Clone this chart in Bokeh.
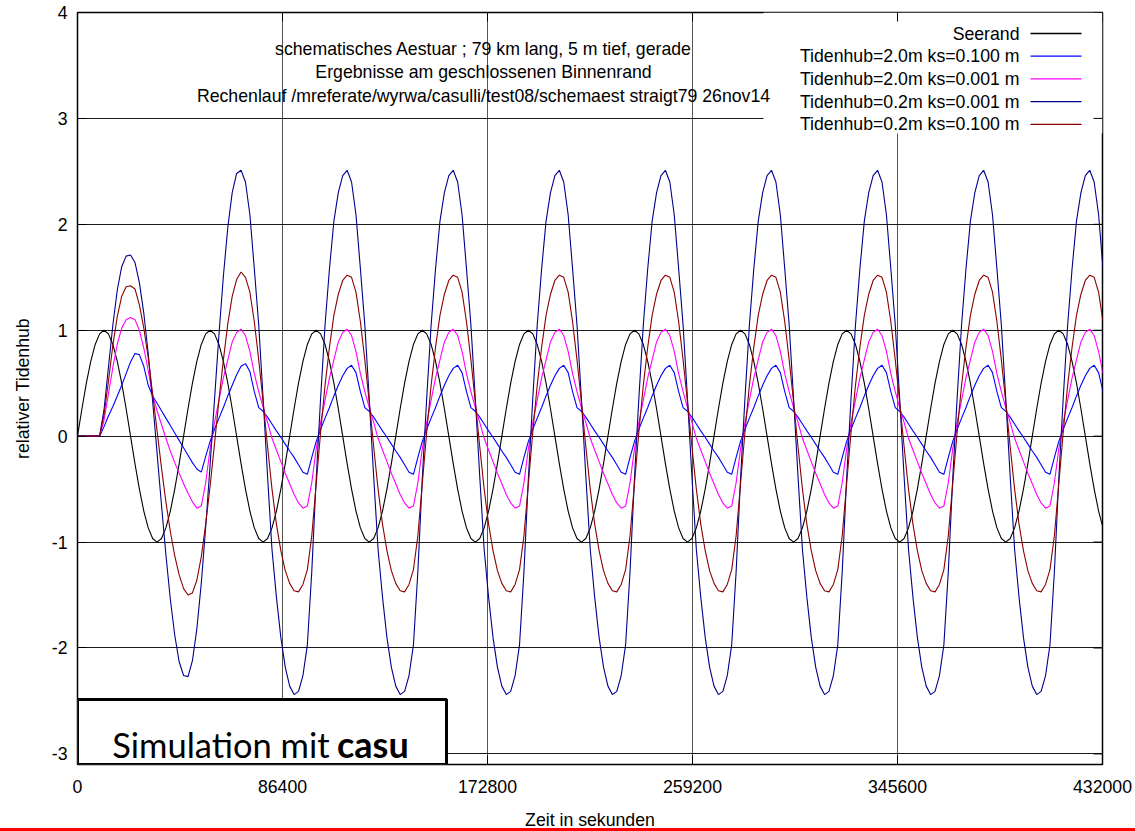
import numpy as np
from bokeh.plotting import figure
from bokeh.models import (Range1d, FixedTicker, BoxAnnotation, Label, Div, ColumnDataSource)
from bokeh.layouts import column
from bokeh.core.properties import value
from bokeh.embed import file_html
from bokeh.resources import INLINE

# sampling step of the stored series: 1/24 of the M2 period (44712 s)
STEP = 1863

# relative water level at the sea boundary
seerand = [
    0.0, 0.259, 0.5, 0.707, 0.866, 0.966, 1.0, 0.966, 0.866, 0.707, 0.5, 0.259, 0.0, -0.259, -0.5, -0.707, -0.866, -0.966, -1.0, -0.966, -0.866, -0.707, -0.5, -0.259,
    0.0, 0.259, 0.5, 0.707, 0.866, 0.966, 1.0, 0.966, 0.866, 0.707, 0.5, 0.259, 0.0, -0.259, -0.5, -0.707, -0.866, -0.966, -1.0, -0.966, -0.866, -0.707, -0.5, -0.259,
    0.0, 0.259, 0.5, 0.707, 0.866, 0.966, 1.0, 0.966, 0.866, 0.707, 0.5, 0.259, 0.0, -0.259, -0.5, -0.707, -0.866, -0.966, -1.0, -0.966, -0.866, -0.707, -0.5, -0.259,
    0.0, 0.259, 0.5, 0.707, 0.866, 0.966, 1.0, 0.966, 0.866, 0.707, 0.5, 0.259, 0.0, -0.259, -0.5, -0.707, -0.866, -0.966, -1.0, -0.966, -0.866, -0.707, -0.5, -0.259,
    0.0, 0.259, 0.5, 0.707, 0.866, 0.966, 1.0, 0.966, 0.866, 0.707, 0.5, 0.259, 0.0, -0.259, -0.5, -0.707, -0.866, -0.966, -1.0, -0.966, -0.866, -0.707, -0.5, -0.259,
    0.0, 0.259, 0.5, 0.707, 0.866, 0.966, 1.0, 0.966, 0.866, 0.707, 0.5, 0.259, 0.0, -0.259, -0.5, -0.707, -0.866, -0.966, -1.0, -0.966, -0.866, -0.707, -0.5, -0.259,
    0.0, 0.259, 0.5, 0.707, 0.866, 0.966, 1.0, 0.966, 0.866, 0.707, 0.5, 0.259, 0.0, -0.259, -0.5, -0.707, -0.866, -0.966, -1.0, -0.966, -0.866, -0.707, -0.5, -0.259,
    0.0, 0.259, 0.5, 0.707, 0.866, 0.966, 1.0, 0.966, 0.866, 0.707, 0.5, 0.259, 0.0, -0.259, -0.5, -0.707, -0.866, -0.966, -1.0, -0.966, -0.866, -0.707, -0.5, -0.259,
    0.0, 0.259, 0.5, 0.707, 0.866, 0.966, 1.0, 0.966, 0.866, 0.707, 0.5, 0.259, 0.0, -0.259, -0.5, -0.707, -0.866, -0.966, -1.0, -0.966, -0.866, -0.707, -0.5, -0.259,
    0.0, 0.259, 0.5, 0.707, 0.866, 0.966, 1.0, 0.966, 0.866, 0.707, 0.5, 0.259, 0.0, -0.259, -0.5, -0.707, -0.866,
]

# Tidenhub 2.0 m, ks = 0.100 m (closed inner boundary)
hub20_ks0100 = [
    0.0, 0.0, 0.0, 0.0, 0.0, 0.0, 0.09, 0.19, 0.28, 0.38, 0.48, 0.59, 0.70, 0.78, 0.77, 0.66, 0.48, 0.38, 0.31, 0.24, 0.17, 0.10, 0.03, -0.04,
    -0.11, -0.18, -0.25, -0.31, -0.34, -0.19, -0.05, 0.065, 0.17, 0.27, 0.38, 0.48, 0.58, 0.66, 0.685, 0.61, 0.42, 0.27, 0.235, 0.18, 0.115, 0.05, -0.01, -0.075,
    -0.14, -0.20, -0.27, -0.34, -0.36, -0.20, -0.05, 0.065, 0.17, 0.27, 0.38, 0.48, 0.57, 0.64, 0.67, 0.60, 0.42, 0.27, 0.235, 0.18, 0.115, 0.05, -0.01, -0.075,
    -0.14, -0.20, -0.27, -0.34, -0.36, -0.20, -0.05, 0.065, 0.17, 0.27, 0.38, 0.48, 0.57, 0.64, 0.67, 0.60, 0.42, 0.27, 0.235, 0.18, 0.115, 0.05, -0.01, -0.075,
    -0.14, -0.20, -0.27, -0.34, -0.36, -0.20, -0.05, 0.065, 0.17, 0.27, 0.38, 0.48, 0.57, 0.64, 0.67, 0.60, 0.42, 0.27, 0.235, 0.18, 0.115, 0.05, -0.01, -0.075,
    -0.14, -0.20, -0.27, -0.34, -0.36, -0.20, -0.05, 0.065, 0.17, 0.27, 0.38, 0.48, 0.57, 0.64, 0.67, 0.60, 0.42, 0.27, 0.235, 0.18, 0.115, 0.05, -0.01, -0.075,
    -0.14, -0.20, -0.27, -0.34, -0.36, -0.20, -0.05, 0.065, 0.17, 0.27, 0.38, 0.48, 0.57, 0.64, 0.67, 0.60, 0.42, 0.27, 0.235, 0.18, 0.115, 0.05, -0.01, -0.075,
    -0.14, -0.20, -0.27, -0.34, -0.36, -0.20, -0.05, 0.065, 0.17, 0.27, 0.38, 0.48, 0.57, 0.64, 0.67, 0.60, 0.42, 0.27, 0.235, 0.18, 0.115, 0.05, -0.01, -0.075,
    -0.14, -0.20, -0.27, -0.34, -0.36, -0.20, -0.05, 0.065, 0.17, 0.27, 0.38, 0.48, 0.57, 0.64, 0.67, 0.60, 0.42, 0.27, 0.235, 0.18, 0.115, 0.05, -0.01, -0.075,
    -0.14, -0.20, -0.27, -0.34, -0.36, -0.20, -0.05, 0.065, 0.17, 0.27, 0.38, 0.48, 0.57, 0.64, 0.67, 0.60, 0.42,
]

# Tidenhub 2.0 m, ks = 0.001 m
hub20_ks0001 = [
    0.0, 0.0, 0.0, 0.0, 0.0, 0.0, 0.15, 0.40, 0.65, 0.87, 1.02, 1.10, 1.12, 1.10, 1.00, 0.83, 0.62, 0.38, 0.24, 0.11, -0.02, -0.14, -0.25, -0.35,
    -0.45, -0.54, -0.62, -0.68, -0.66, -0.44, -0.12, 0.13, 0.34, 0.55, 0.72, 0.89, 0.98, 1.01, 0.95, 0.80, 0.59, 0.42, 0.27, 0.13, -0.02, -0.13, -0.24, -0.35,
    -0.45, -0.55, -0.63, -0.68, -0.66, -0.44, -0.12, 0.13, 0.34, 0.55, 0.72, 0.89, 0.98, 1.01, 0.95, 0.80, 0.59, 0.42, 0.27, 0.13, -0.02, -0.13, -0.24, -0.35,
    -0.45, -0.55, -0.63, -0.68, -0.66, -0.44, -0.12, 0.13, 0.34, 0.55, 0.72, 0.89, 0.98, 1.01, 0.95, 0.80, 0.59, 0.42, 0.27, 0.13, -0.02, -0.13, -0.24, -0.35,
    -0.45, -0.55, -0.63, -0.68, -0.66, -0.44, -0.12, 0.13, 0.34, 0.55, 0.72, 0.89, 0.98, 1.01, 0.95, 0.80, 0.59, 0.42, 0.27, 0.13, -0.02, -0.13, -0.24, -0.35,
    -0.45, -0.55, -0.63, -0.68, -0.66, -0.44, -0.12, 0.13, 0.34, 0.55, 0.72, 0.89, 0.98, 1.01, 0.95, 0.80, 0.59, 0.42, 0.27, 0.13, -0.02, -0.13, -0.24, -0.35,
    -0.45, -0.55, -0.63, -0.68, -0.66, -0.44, -0.12, 0.13, 0.34, 0.55, 0.72, 0.89, 0.98, 1.01, 0.95, 0.80, 0.59, 0.42, 0.27, 0.13, -0.02, -0.13, -0.24, -0.35,
    -0.45, -0.55, -0.63, -0.68, -0.66, -0.44, -0.12, 0.13, 0.34, 0.55, 0.72, 0.89, 0.98, 1.01, 0.95, 0.80, 0.59, 0.42, 0.27, 0.13, -0.02, -0.13, -0.24, -0.35,
    -0.45, -0.55, -0.63, -0.68, -0.66, -0.44, -0.12, 0.13, 0.34, 0.55, 0.72, 0.89, 0.98, 1.01, 0.95, 0.80, 0.59, 0.42, 0.27, 0.13, -0.02, -0.13, -0.24, -0.35,
    -0.45, -0.55, -0.63, -0.68, -0.66, -0.44, -0.12, 0.13, 0.34, 0.55, 0.72, 0.89, 0.98, 1.01, 0.95, 0.80, 0.59,
]

# Tidenhub 0.2 m, ks = 0.001 m
hub02_ks0001 = [
    0.0, 0.0, 0.0, 0.0, 0.0, 0.0, 0.25, 0.65, 1.05, 1.38, 1.60, 1.70, 1.71, 1.64, 1.45, 1.16, 0.78, 0.33, -0.16, -0.65, -1.12, -1.54, -1.88, -2.13,
    -2.26, -2.27, -2.12, -1.82, -1.39, -0.86, -0.27, 0.35, 0.96, 1.51, 1.97, 2.30, 2.48, 2.51, 2.40, 2.09, 1.58, 1.05, 0.35, -0.38, -1.07, -1.52, -1.90, -2.18,
    -2.36, -2.44, -2.41, -2.26, -1.97, -1.28, -0.40, 0.36, 1.05, 1.58, 2.03, 2.30, 2.46, 2.51, 2.40, 2.09, 1.58, 1.05, 0.35, -0.38, -1.07, -1.52, -1.90, -2.18,
    -2.36, -2.44, -2.41, -2.26, -1.97, -1.28, -0.40, 0.36, 1.05, 1.58, 2.03, 2.30, 2.46, 2.51, 2.40, 2.09, 1.58, 1.05, 0.35, -0.38, -1.07, -1.52, -1.90, -2.18,
    -2.36, -2.44, -2.41, -2.26, -1.97, -1.28, -0.40, 0.36, 1.05, 1.58, 2.03, 2.30, 2.46, 2.51, 2.40, 2.09, 1.58, 1.05, 0.35, -0.38, -1.07, -1.52, -1.90, -2.18,
    -2.36, -2.44, -2.41, -2.26, -1.97, -1.28, -0.40, 0.36, 1.05, 1.58, 2.03, 2.30, 2.46, 2.51, 2.40, 2.09, 1.58, 1.05, 0.35, -0.38, -1.07, -1.52, -1.90, -2.18,
    -2.36, -2.44, -2.41, -2.26, -1.97, -1.28, -0.40, 0.36, 1.05, 1.58, 2.03, 2.30, 2.46, 2.51, 2.40, 2.09, 1.58, 1.05, 0.35, -0.38, -1.07, -1.52, -1.90, -2.18,
    -2.36, -2.44, -2.41, -2.26, -1.97, -1.28, -0.40, 0.36, 1.05, 1.58, 2.03, 2.30, 2.46, 2.51, 2.40, 2.09, 1.58, 1.05, 0.35, -0.38, -1.07, -1.52, -1.90, -2.18,
    -2.36, -2.44, -2.41, -2.26, -1.97, -1.28, -0.40, 0.36, 1.05, 1.58, 2.03, 2.30, 2.46, 2.51, 2.40, 2.09, 1.58, 1.05, 0.35, -0.38, -1.07, -1.52, -1.90, -2.18,
    -2.36, -2.44, -2.41, -2.26, -1.97, -1.28, -0.40, 0.36, 1.05, 1.58, 2.03, 2.30, 2.46, 2.51, 2.40, 2.09, 1.58,
]

# Tidenhub 0.2 m, ks = 0.100 m
hub02_ks0100 = [
    0.0, 0.0, 0.0, 0.0, 0.0, 0.0, 0.20, 0.52, 0.86, 1.13, 1.32, 1.41, 1.42, 1.39, 1.24, 1.02, 0.74, 0.40, 0.05, -0.30, -0.62, -0.90, -1.13, -1.31,
    -1.44, -1.50, -1.48, -1.36, -1.14, -0.83, -0.47, -0.07, 0.34, 0.72, 1.06, 1.32, 1.48, 1.55, 1.50, 1.36, 1.08, 0.72, 0.32, -0.10, -0.50, -0.83, -1.08, -1.27,
    -1.39, -1.46, -1.47, -1.40, -1.26, -0.94, -0.45, 0.04, 0.48, 0.84, 1.14, 1.34, 1.47, 1.52, 1.50, 1.36, 1.08, 0.72, 0.32, -0.10, -0.50, -0.83, -1.08, -1.27,
    -1.39, -1.46, -1.47, -1.40, -1.26, -0.94, -0.45, 0.04, 0.48, 0.84, 1.14, 1.34, 1.47, 1.52, 1.50, 1.36, 1.08, 0.72, 0.32, -0.10, -0.50, -0.83, -1.08, -1.27,
    -1.39, -1.46, -1.47, -1.40, -1.26, -0.94, -0.45, 0.04, 0.48, 0.84, 1.14, 1.34, 1.47, 1.52, 1.50, 1.36, 1.08, 0.72, 0.32, -0.10, -0.50, -0.83, -1.08, -1.27,
    -1.39, -1.46, -1.47, -1.40, -1.26, -0.94, -0.45, 0.04, 0.48, 0.84, 1.14, 1.34, 1.47, 1.52, 1.50, 1.36, 1.08, 0.72, 0.32, -0.10, -0.50, -0.83, -1.08, -1.27,
    -1.39, -1.46, -1.47, -1.40, -1.26, -0.94, -0.45, 0.04, 0.48, 0.84, 1.14, 1.34, 1.47, 1.52, 1.50, 1.36, 1.08, 0.72, 0.32, -0.10, -0.50, -0.83, -1.08, -1.27,
    -1.39, -1.46, -1.47, -1.40, -1.26, -0.94, -0.45, 0.04, 0.48, 0.84, 1.14, 1.34, 1.47, 1.52, 1.50, 1.36, 1.08, 0.72, 0.32, -0.10, -0.50, -0.83, -1.08, -1.27,
    -1.39, -1.46, -1.47, -1.40, -1.26, -0.94, -0.45, 0.04, 0.48, 0.84, 1.14, 1.34, 1.47, 1.52, 1.50, 1.36, 1.08, 0.72, 0.32, -0.10, -0.50, -0.83, -1.08, -1.27,
    -1.39, -1.46, -1.47, -1.40, -1.26, -0.94, -0.45, 0.04, 0.48, 0.84, 1.14, 1.34, 1.47, 1.52, 1.50, 1.36, 1.08,
]

series_keys = ["seerand", "hub20_ks0100", "hub20_ks0001", "hub02_ks0001", "hub02_ks0100"]
series_labels = ["Seerand", "Tidenhub=2.0m ks=0.100 m", "Tidenhub=2.0m ks=0.001 m",
                 "Tidenhub=0.2m ks=0.001 m", "Tidenhub=0.2m ks=0.100 m"]
series_colors = ["#000000", "#0000ff", "#ff00ff", "#00008b", "#8b0000"]

x_ticks = [0, 86400, 172800, 259200, 345600, 432000]
x_tick_labels = ["0", "86400", "172800", "259200", "345600", "432000"]
y_ticks = [-3, -2, -1, 0, 1, 2, 3, 4]
y_tick_labels = ["-3", "-2", "-1", "0", "1", "2", "3", "4"]

title_lines = [
    "schematisches Aestuar ; 79 km lang, 5 m tief, gerade",
    "Ergebnisse am geschlossenen Binnenrand",
    "Rechenlauf /mreferate/wyrwa/casulli/test08/schemaest straigt79 26nov14",
]
x_label = "Zeit in sekunden"
y_label = "relativer Tidenhub"

zeit = np.arange(len(seerand)) * STEP
source = ColumnDataSource(dict(
    zeit=zeit, seerand=seerand, hub20_ks0100=hub20_ks0100, hub20_ks0001=hub20_ks0001,
    hub02_ks0001=hub02_ks0001, hub02_ks0100=hub02_ks0100,
))

# ---- canvas geometry -------------------------------------------------------
PAGE_H = 831
W, H = 1135, 836
B_LEFT, B_RIGHT, B_TOP, B_BOTTOM = 77, 33, 12, 72
X0, X1 = 0, 432000
Y0, Y1 = -3.1, 4.0
FRAME_W = W - B_LEFT - B_RIGHT
FRAME_H = H - B_TOP - B_BOTTOM
RULE_H = 3


def sx(px):
    """canvas pixel column -> x data value"""
    return X0 + (px - B_LEFT) * (X1 - X0) / FRAME_W


def sy(py):
    """canvas pixel row -> y data value"""
    return Y1 - (py - B_TOP) * (Y1 - Y0) / FRAME_H


FONT = "Liberation Sans"
FS = "17.7px"
TICK_LEN = 9  # px, inner ticks on the top and right border

p = figure(width=W, height=H, x_range=Range1d(X0, X1), y_range=Range1d(Y0, Y1),
           output_backend="svg", toolbar_location=None, title=None,
           min_border_left=B_LEFT, min_border_right=B_RIGHT,
           min_border_top=B_TOP, min_border_bottom=B_BOTTOM)
p.background_fill_color = "white"
p.border_fill_color = "white"
p.outline_line_color = "black"
p.outline_line_width = 1.5

# grid
p.xgrid.ticker = FixedTicker(ticks=x_ticks)
p.ygrid.ticker = FixedTicker(ticks=y_ticks)
p.xgrid.grid_line_color = "#555555"
p.xgrid.grid_line_width = 1
p.ygrid.grid_line_color = "#1a1a1a"
p.ygrid.grid_line_width = 1.2

# axes
p.xaxis.ticker = FixedTicker(ticks=x_ticks)
p.yaxis.ticker = FixedTicker(ticks=y_ticks)
p.xaxis.major_label_overrides = {t: s for t, s in zip(x_ticks, x_tick_labels)}
p.yaxis.major_label_overrides = {t: s for t, s in zip(y_ticks, y_tick_labels)}
for ax in (p.xaxis[0], p.yaxis[0]):
    ax.axis_line_color = None
    ax.major_tick_in = TICK_LEN
    ax.major_tick_out = 0
    ax.major_tick_line_color = "black"
    ax.minor_tick_line_color = None
    ax.major_label_text_font = FONT
    ax.major_label_text_font_size = FS
    ax.major_label_text_color = "black"
    ax.axis_label_text_font = FONT
    ax.axis_label_text_font_size = FS
    ax.axis_label_text_font_style = "normal"
    ax.axis_label_text_color = "black"
p.xaxis.major_label_standoff = 15
p.yaxis.major_label_standoff = 10
p.xaxis.axis_label = x_label
p.xaxis.axis_label_standoff = 14
p.yaxis.axis_label = y_label
p.yaxis.axis_label_standoff = 16

# white key area in the upper right corner
p.quad(left=[sx(763)], right=[sx(1102)], top=[sy(B_TOP)], bottom=[sy(133)],
       fill_color="white", line_color=None)

# mirrored inner ticks along the top and right border
tick_dx = TICK_LEN * (X1 - X0) / FRAME_W
tick_dy = TICK_LEN * (Y1 - Y0) / FRAME_H
p.segment(x0=[X1 - tick_dx] * len(y_ticks), x1=[X1] * len(y_ticks),
          y0=y_ticks, y1=y_ticks, line_color="black", line_width=1)
p.segment(x0=x_ticks, x1=x_ticks, y0=[Y1 - tick_dy] * len(x_ticks),
          y1=[Y1] * len(x_ticks), line_color="black", line_width=1)

# curves
for key, col in zip(series_keys, series_colors):
    p.line("zeit", key, source=source, line_color=col, line_width=1.1)

# key: labels right-aligned, line samples to their right
row_y = [sy(33 + 22.7 * i) for i in range(len(series_labels))]
p.text(x=[sx(1019)] * len(series_labels), y=row_y, text=series_labels,
       text_align="right", text_baseline="middle", text_color="black",
       text_font=value(FONT), text_font_size=FS)
p.segment(x0=[sx(1030)] * len(series_labels), x1=[sx(1081)] * len(series_labels),
          y0=row_y, y1=row_y, line_color=series_colors, line_width=1.3)

# heading lines inside the plot
p.text(x=[sx(483)] * 3, y=[sy(48), sy(71.5), sy(95)], text=title_lines,
       text_align="center", text_baseline="middle", text_color="black",
       text_font=value(FONT), text_font_size=FS)

# caption box in the lower left corner
p.add_layout(BoxAnnotation(left=X0, right=sx(446), top=sy(699), bottom=Y0,
                           fill_color="white", fill_alpha=1.0,
                           line_color="black", line_alpha=1.0, line_width=3))
p.add_layout(Label(x=sx(111.7), y=sy(743.5), text="Simulation mit",
                   text_align="left", text_baseline="alphabetic",
                   text_font="Lato", text_font_size="34.5px", text_color="black"))
p.add_layout(Label(x=sx(336.5), y=sy(743.5), text="casu",
                   text_align="left", text_baseline="alphabetic",
                   text_font="Lato", text_font_size="36px", text_font_style="bold",
                   text_color="black"))

# red rule laid over the bottom edge of the page
rule = Div(text="", width=W, height=RULE_H, margin=(PAGE_H - RULE_H - H, 0, 0, 0),
           styles={"background-color": "#ff0000", "position": "relative", "z-index": "5"})
layout = column(p, rule, spacing=0)

open("out.html", "w").write(file_html(layout, INLINE))
